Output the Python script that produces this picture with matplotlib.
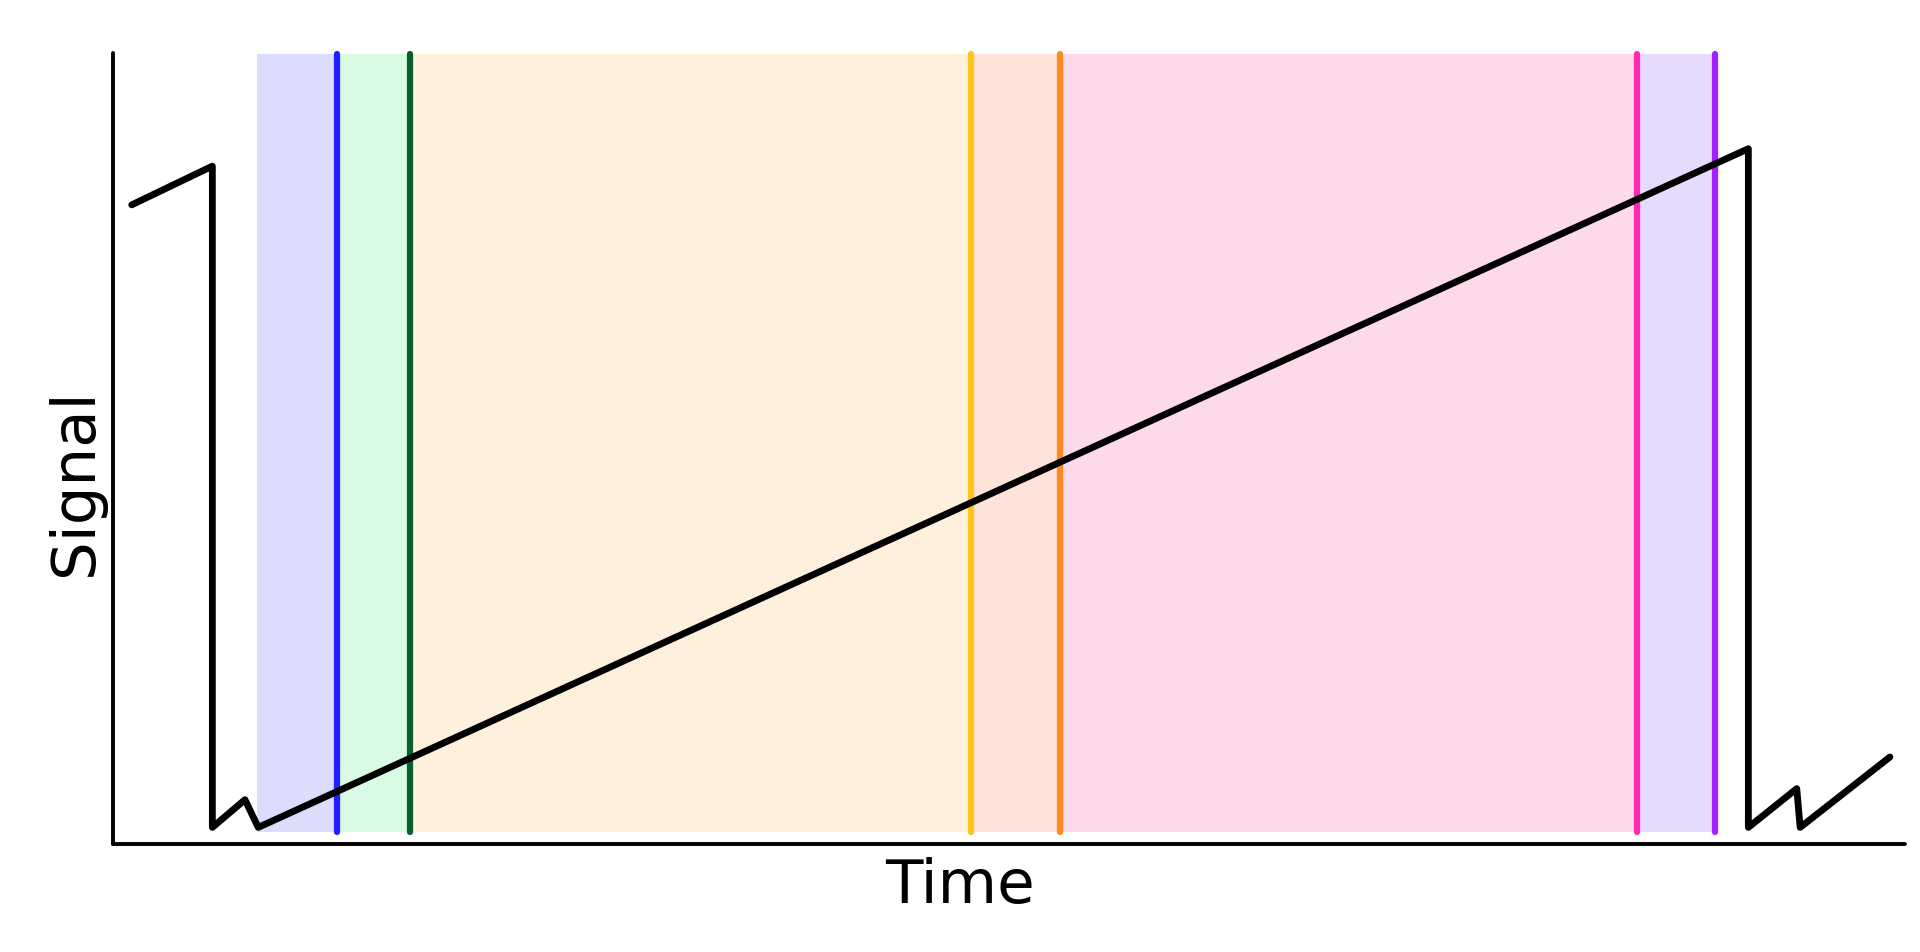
import matplotlib
matplotlib.use("Agg")
import matplotlib.pyplot as plt

# Signal trace (time, value)
signal_time = [1.06, 5.56, 5.56, 7.38, 8.12, 91.26, 91.26, 93.96, 94.15, 99.16]
signal_value = [0.808, 0.857, 0.021, 0.056, 0.021, 0.879, 0.021, 0.070, 0.021, 0.110]

# Shaded phase boundaries and their colours
band_edges = [8.03, 12.51, 16.59, 47.87, 52.85, 85.05, 89.40]
band_colors = ["#DCDCFD", "#D9FBE4", "#FEF0DC", "#FEE3DB", "#FDDAEA", "#E6DAFD"]
line_colors = ["#2020FF", "#06612F", "#FFC61E", "#FF8A22", "#FF29B8", "#A421FF"]

x_label = "Time"
y_label = "Signal"

fig = plt.figure(figsize=(19.2, 9.53), dpi=100)
ax = fig.add_axes([112.7 / 1920, 108 / 953, 1792.3 / 1920, 791 / 953])
ax.set_xlim(0, 100)
ax.set_ylim(0, 1)

band_lo, band_hi = 0.0152, 0.9987
for i, col in enumerate(band_colors):
    ax.axvspan(band_edges[i], band_edges[i + 1], ymin=band_lo, ymax=band_hi,
               facecolor=col, edgecolor="none", zorder=1)
for x, col in zip(band_edges[1:], line_colors):
    ax.axvline(x, ymin=band_lo, ymax=band_hi, color=col, lw=4.5,
               solid_capstyle="round", clip_on=False, zorder=2)

ax.plot(signal_time, signal_value, color="black", lw=4.9,
        solid_capstyle="round", solid_joinstyle="round", zorder=3, clip_on=False)

for s in ["top", "right"]:
    ax.spines[s].set_visible(False)
for s in ["left", "bottom"]:
    ax.spines[s].set_linewidth(2.8)
    ax.spines[s].set_capstyle("round")
ax.set_xticks([])
ax.set_yticks([])

ax.text(0.4725, -0.0733, x_label, transform=ax.transAxes, fontsize=44,
        ha="center", va="baseline", rotation_mode="anchor",
        family="DejaVu Sans")
ax.text(-0.0115, 0.459, y_label, transform=ax.transAxes, fontsize=44,
        ha="center", va="baseline", rotation=90, rotation_mode="anchor",
        family="DejaVu Sans")

fig.savefig("out.png", dpi=100)
